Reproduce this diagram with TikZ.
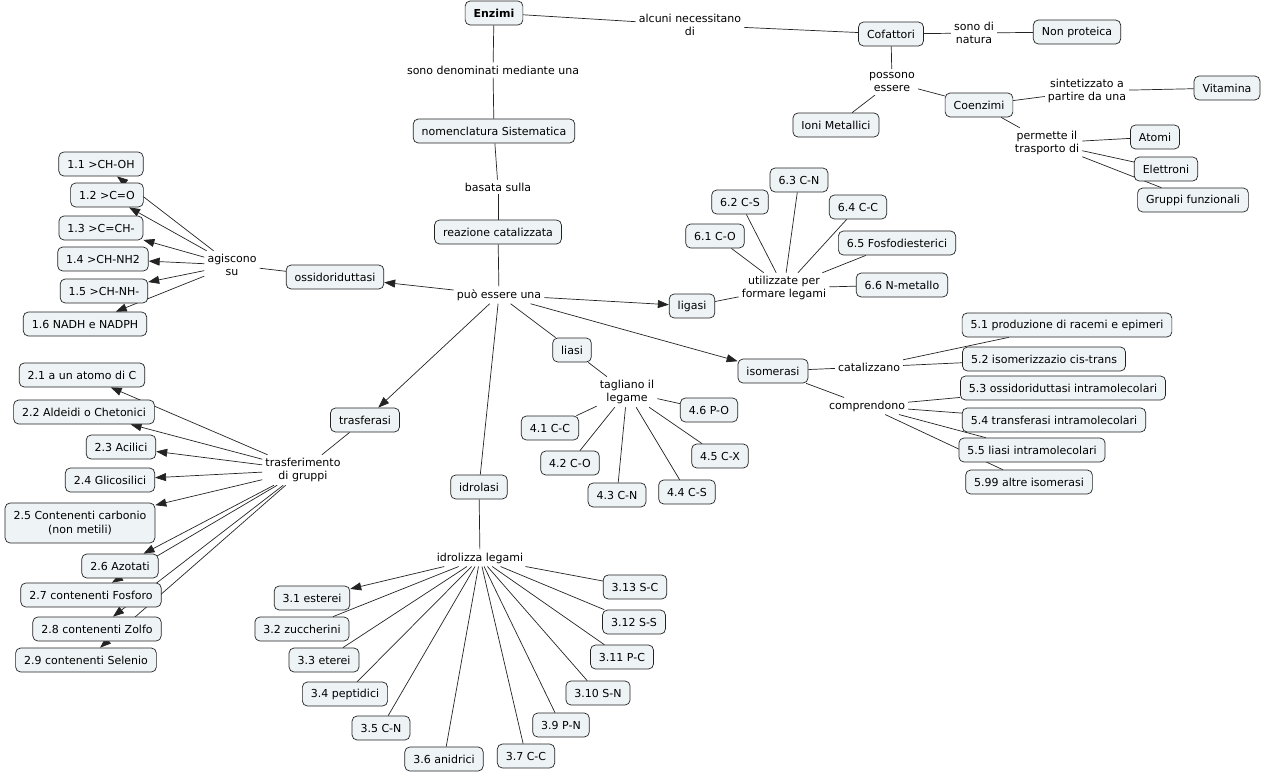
\documentclass[tikz,border=0pt]{standalone}
\usepackage{fontspec}
\setmainfont{DejaVu Sans}
\usetikzlibrary{arrows.meta,backgrounds}
\definecolor{kfill}{RGB}{238,243,246}
\definecolor{klinie}{RGB}{35,35,35}
\begin{document}
\begin{tikzpicture}[x=1pt,y=-1pt,
    font=\fontsize{11}{13.5}\selectfont,
    konzept/.style={draw=klinie, fill=kfill, rounded corners=5pt, line width=0.7pt,
                    inner xsep=8.5pt, inner ysep=3pt, minimum height=24pt, align=center},
    satz/.style={inner sep=3pt, align=center},
    linie/.style={draw=klinie, line width=0.7pt},
    pfeil/.style={linie, -{Triangle[length=11pt,width=8pt]}}]
    \useasboundingbox (0,0) rectangle (1262,774);
    % Hauptkonzepte
    \node [konzept, font=\fontsize{11}{13.5}\selectfont\bfseries] (enz) at (494,13) {Enzimi};
    \node [konzept] (nom)   at (494,131) {nomenclatura Sistematica};
    \node [konzept] (reak)  at (498,232) {reazione catalizzata};
    \node [konzept] (cof)   at (891,34)  {Cofattori};
    \node [konzept] (nonp)  at (1077,32) {Non proteica};
    \node [konzept] (coenz) at (979,105) {Coenzimi};
    \node [konzept] (ioni)  at (836,125) {Ioni Metallici};
    \node [konzept] (vit)   at (1227,88) {Vitamina};
    \node [konzept] (atomi) at (1155,137) {Atomi};
    \node [konzept] (elet)  at (1166,169) {Elettroni};
    \node [konzept] (grupf) at (1193,200) {Gruppi funzionali};
    \node [konzept] (ossi)  at (335,277) {ossidoriduttasi};
    \node [konzept] (lig)   at (692,306) {ligasi};
    \node [konzept] (lias)  at (572,350) {liasi};
    \node [konzept] (iso)   at (773,371) {isomerasi};
    \node [konzept] (tras)  at (365,420) {trasferasi};
    \node [konzept] (idro)  at (479,487) {idrolasi};
    % Klasse 1
    \node [konzept] (k11) at (101,164) {1.1 >CH-OH};
    \node [konzept] (k12) at (107,195) {1.2 >C=O};
    \node [konzept] (k13) at (101,228) {1.3 >C=CH-};
    \node [konzept] (k14) at (103,259) {1.4 >CH-NH2};
    \node [konzept] (k15) at (104,291) {1.5 >CH-NH-};
    \node [konzept] (k16) at (85,324)  {1.6 NADH e NADPH};
    % Klasse 2
    \node [konzept] (k21) at (82,375)  {2.1 a un atomo di C};
    \node [konzept] (k22) at (84,412)  {2.2 Aldeidi o Chetonici};
    \node [konzept] (k23) at (121,447) {2.3 Acilici};
    \node [konzept] (k24) at (110,480) {2.4 Glicosilici};
    \node [konzept, minimum height=40pt] (k25) at (80,523) {2.5 Contenenti carbonio\\(non metili)};
    \node [konzept] (k26) at (120,566) {2.6 Azotati};
    \node [konzept] (k27) at (91,595)  {2.7 contenenti Fosforo};
    \node [konzept] (k28) at (97,629)  {2.8 contenenti Zolfo};
    \node [konzept] (k29) at (86,660)  {2.9 contenenti Selenio};
    % Klasse 3
    \node [konzept] (k31)  at (312,598) {3.1 esterei};
    \node [konzept] (k32)  at (302,629) {3.2 zuccherini};
    \node [konzept] (k33)  at (324,660) {3.3 eterei};
    \node [konzept] (k34)  at (345,694) {3.4 peptidici};
    \node [konzept] (k35)  at (381,728) {3.5 C-N};
    \node [konzept] (k36)  at (444,759) {3.6 anidrici};
    \node [konzept] (k37)  at (526,756) {3.7 C-C};
    \node [konzept] (k39)  at (561,725) {3.9 P-N};
    \node [konzept] (k310) at (598,693) {3.10 S-N};
    \node [konzept] (k311) at (622,657) {3.11 P-C};
    \node [konzept] (k312) at (634,622) {3.12 S-S};
    \node [konzept] (k313) at (635,587) {3.13 S-C};
    % Klasse 4
    \node [konzept] (k41) at (550,428) {4.1 C-C};
    \node [konzept] (k42) at (570,463) {4.2 C-O};
    \node [konzept] (k43) at (617,495) {4.3 C-N};
    \node [konzept] (k44) at (687,492) {4.4 C-S};
    \node [konzept] (k45) at (720,456) {4.5 C-X};
    \node [konzept] (k46) at (709,410) {4.6 P-O};
    % Klasse 5
    \node [konzept] (k51)  at (1067,325) {5.1 produzione di racemi e epimeri};
    \node [konzept] (k52)  at (1044,359) {5.2 isomerizzazio cis-trans};
    \node [konzept] (k53)  at (1063,388) {5.3 ossidoriduttasi intramolecolari};
    \node [konzept] (k54)  at (1054,420) {5.4 transferasi intramolecolari};
    \node [konzept] (k55)  at (1032,450) {5.5 liasi intramolecolari};
    \node [konzept] (k599) at (1029,482) {5.99 altre isomerasi};
    % Klasse 6
    \node [konzept] (k61) at (715,236) {6.1 C-O};
    \node [konzept] (k62) at (740,202) {6.2 C-S};
    \node [konzept] (k63) at (799,180) {6.3 C-N};
    \node [konzept] (k64) at (858,207) {6.4 C-C};
    \node [konzept] (k65) at (897,243) {6.5 Fosfodiesterici};
    \node [konzept] (k66) at (902,285) {6.6 N-metallo};
    % Verbindungssaetze
    \node [satz] (s1)  at (690,25)  {alcuni necessitano\\di};
    \node [satz] (s2)  at (493,70)  {sono denominati mediante una};
    \node [satz] (s3)  at (974,33)  {sono di\\natura};
    \node [satz] (s4)  at (892,82)  {possono\\essere};
    \node [satz] (s5)  at (1087,91) {sintetizzato a\\partire da una};
    \node [satz] (s6)  at (1047,143) {permette il\\trasporto di};
    \node [satz] (s7)  at (498,187) {basata sulla};
    \node [satz] (s8)  at (499,295) {può essere una};
    \node [satz] (s9)  at (232,265) {agiscono\\su};
    \node [satz] (s10) at (784,288) {utilizzate per\\formare legami};
    \node [satz] (s11) at (869,367) {catalizzano};
    \node [satz] (s12) at (867,406) {comprendono};
    \node [satz] (s13) at (627,392) {tagliano il\\legame};
    \node [satz] (s14) at (303,470) {trasferimento\\di gruppi};
    \node [satz] (s15) at (480,558) {idrolizza legami};
    % Linien (hinter den Kaesten)
    \begin{scope}[on background layer]
        \draw [linie] (enz) -- (s1);   \draw [linie] (s1) -- (cof);
        \draw [linie] (cof) -- (s3);   \draw [linie] (s3) -- (nonp);
        \draw [linie] (cof) -- (s4);   \draw [linie] (s4) -- (ioni);
        \draw [linie] (s4) -- (coenz);
        \draw [linie] (coenz) -- (s5); \draw [linie] (s5) -- (vit);
        \draw [linie] (coenz) -- (s6);
        \draw [linie] (s6) -- (atomi); \draw [linie] (s6) -- (elet);
        \draw [linie] (s6) -- (grupf);
        \draw [linie] (enz) -- (s2);   \draw [linie] (s2) -- (nom);
        \draw [linie] (nom) -- (s7);   \draw [linie] (s7) -- (reak);
        \draw [linie] (reak) -- (s8);
        \draw [pfeil] (s8) -- (ossi);  \draw [pfeil] (s8) -- (lig);
        \draw [pfeil] (s8) -- (iso);   \draw [pfeil] (s8) -- (tras);
        \draw [linie] (s8) -- (lias);  \draw [linie] (s8) -- (idro);
        % ossidoriduttasi
        \draw [linie] (ossi) -- (s9);
        \draw [pfeil] (s9) -- (k11);   \draw [pfeil] (s9) -- (k12);
        \draw [pfeil] (s9) -- (k13);   \draw [pfeil] (s9) -- (k14);
        \draw [pfeil] (s9) -- (k15);   \draw [pfeil] (s9) -- (k16);
        % ligasi
        \draw [linie] (lig) -- (s10);
        \draw [linie] (s10) -- (k61);  \draw [linie] (s10) -- (k62);
        \draw [linie] (s10) -- (k63);  \draw [linie] (s10) -- (k64);
        \draw [linie] (s10) -- (k65);  \draw [linie] (s10) -- (k66);
        % isomerasi
        \draw [linie] (iso) -- (s11);
        \draw [linie] (s11) -- (k51);  \draw [linie] (s11) -- (k52);
        \draw [linie] (iso) -- (s12);
        \draw [linie] (s12) -- (k53);  \draw [linie] (s12) -- (k54);
        \draw [linie] (s12) -- (k55);  \draw [linie] (s12) -- (k599);
        % liasi
        \draw [linie] (lias) -- (s13);
        \draw [linie] (s13) -- (k41);  \draw [linie] (s13) -- (k42);
        \draw [linie] (s13) -- (k43);  \draw [linie] (s13) -- (k44);
        \draw [linie] (s13) -- (k45);  \draw [linie] (s13) -- (k46);
        % trasferasi
        \draw [linie] (tras) -- (s14);
        \draw [pfeil] (s14) -- (k21);  \draw [pfeil] (s14) -- (k22);
        \draw [pfeil] (s14) -- (k23);  \draw [pfeil] (s14) -- (k24);
        \draw [pfeil] (s14) -- (k25);  \draw [pfeil] (s14) -- (k26);
        \draw [pfeil] (s14) -- (k27);  \draw [pfeil] (s14) -- (k28);
        \draw [pfeil] (s14) -- (k29);
        % idrolasi
        \draw [linie] (idro) -- (s15);
        \draw [pfeil] (s15) -- (k31);  \draw [linie] (s15) -- (k32);
        \draw [linie] (s15) -- (k33);  \draw [linie] (s15) -- (k34);
        \draw [linie] (s15) -- (k35);  \draw [linie] (s15) -- (k36);
        \draw [linie] (s15) -- (k37);  \draw [linie] (s15) -- (k39);
        \draw [linie] (s15) -- (k310); \draw [linie] (s15) -- (k311);
        \draw [linie] (s15) -- (k312); \draw [linie] (s15) -- (k313);
    \end{scope}
\end{tikzpicture}
\end{document}
